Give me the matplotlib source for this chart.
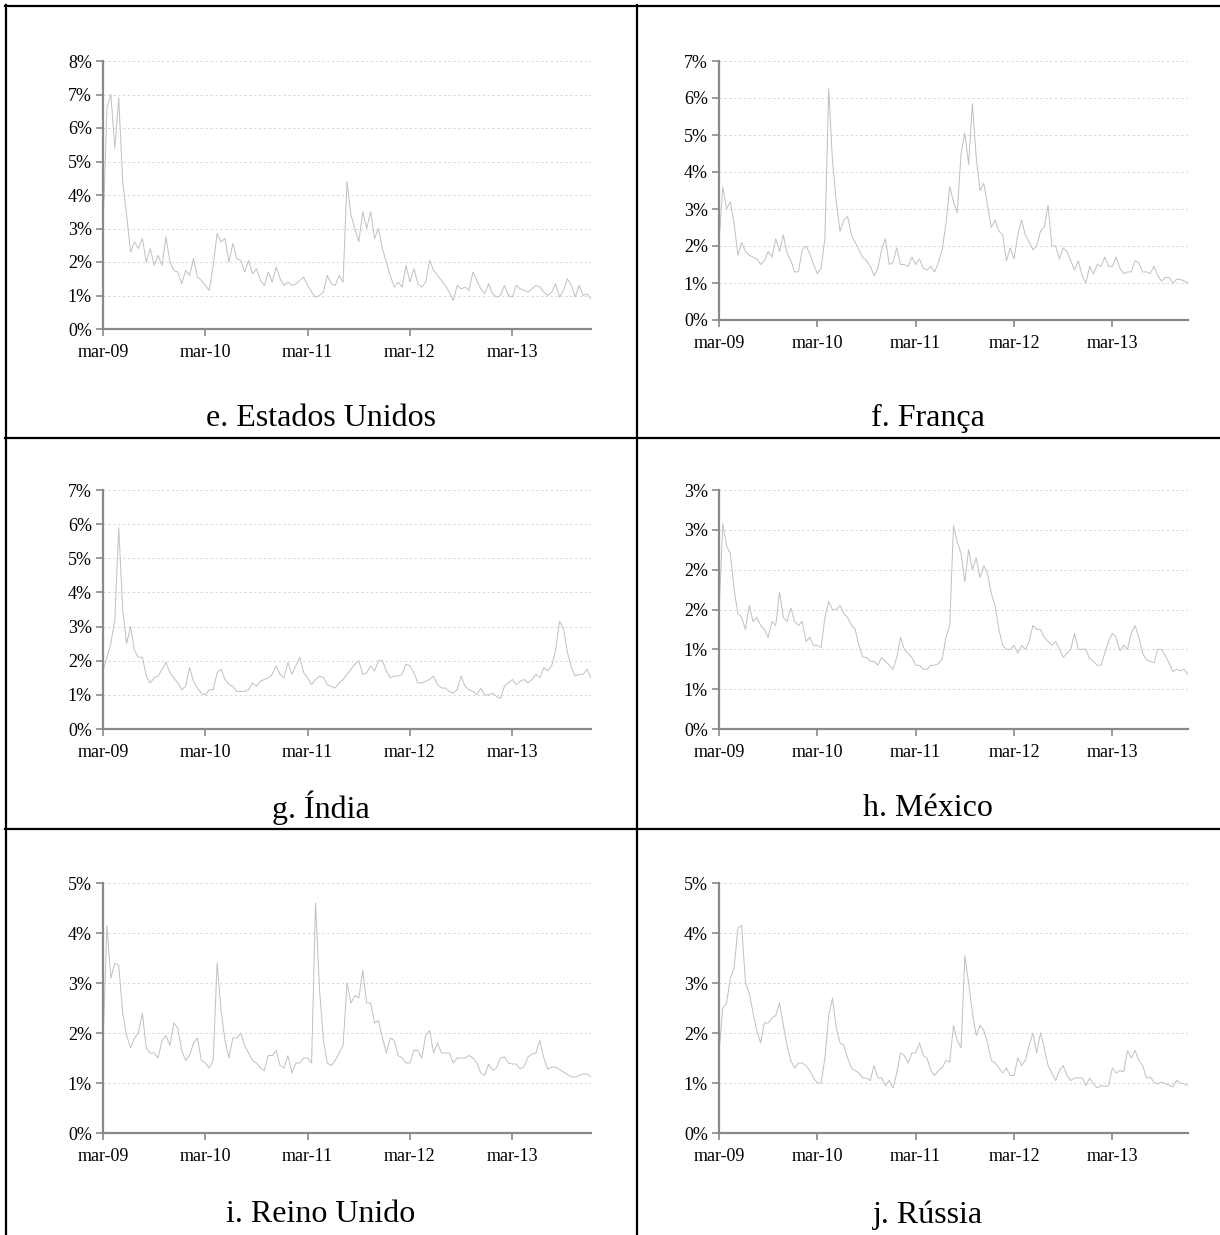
import numpy as np
import matplotlib.pyplot as plt
from matplotlib.lines import Line2D
from matplotlib.ticker import FuncFormatter, MultipleLocator

plt.rcParams['font.family'] = ['Liberation Serif', 'DejaVu Serif']

# Volatility readings (%), one value every two weeks from march 2009
estados_unidos = [
    2.9, 6.6, 7.0, 5.4, 6.9, 4.4, 3.4, 2.3, 2.6, 2.4,
    2.7, 2.0, 2.4, 1.9, 2.2, 1.9, 2.75, 2.0, 1.75, 1.7,
    1.35, 1.75, 1.6, 2.1, 1.55, 1.45, 1.3, 1.15, 1.9, 2.85,
    2.6, 2.7, 2.0, 2.55, 2.1, 2.05, 1.7, 2.05, 1.65, 1.8,
    1.45, 1.3, 1.7, 1.4, 1.85, 1.5, 1.3, 1.4, 1.3, 1.35,
    1.45, 1.55, 1.3, 1.1, 0.95, 1.0, 1.1, 1.6, 1.35, 1.3,
    1.6, 1.4, 4.4, 3.4, 3.0, 2.6, 3.5, 3.0, 3.5, 2.7,
    3.0, 2.4, 2.0, 1.6, 1.25, 1.4, 1.25, 1.9, 1.4, 1.8,
    1.35, 1.25, 1.4, 2.05, 1.75, 1.6, 1.45, 1.3, 1.1, 0.85,
    1.3, 1.2, 1.25, 1.15, 1.7, 1.45, 1.2, 1.05, 1.35, 1.05,
    0.95, 1.0, 1.3, 1.0, 0.95, 1.3, 1.2, 1.15, 1.1, 1.2,
    1.3, 1.25, 1.1, 1.0, 1.1, 1.35, 0.95, 1.15, 1.5, 1.3,
    0.95, 1.3, 1.0, 1.05, 0.9,
]
franca = [
    2.1, 3.6, 3.0, 3.2, 2.6, 1.75, 2.1, 1.85, 1.75, 1.7,
    1.65, 1.5, 1.6, 1.85, 1.7, 2.2, 1.85, 2.3, 1.8, 1.6,
    1.3, 1.3, 1.9, 2.0, 1.8, 1.5, 1.25, 1.4, 2.2, 6.25,
    4.3, 3.2, 2.4, 2.7, 2.8, 2.3, 2.1, 1.9, 1.7, 1.6,
    1.45, 1.2, 1.4, 1.9, 2.2, 1.5, 1.55, 1.95, 1.5, 1.5,
    1.45, 1.7, 1.5, 1.65, 1.4, 1.35, 1.45, 1.3, 1.55, 1.9,
    2.6, 3.6, 3.2, 2.9, 4.5, 5.05, 4.2, 5.85, 4.4, 3.5,
    3.7, 3.1, 2.5, 2.7, 2.4, 2.3, 1.6, 1.95, 1.65, 2.3,
    2.7, 2.3, 2.1, 1.9, 2.0, 2.4, 2.5, 3.1, 2.0, 2.0,
    1.65, 1.95, 1.85, 1.6, 1.35, 1.6, 1.2, 1.0, 1.45, 1.25,
    1.5, 1.45, 1.7, 1.45, 1.45, 1.7, 1.4, 1.25, 1.3, 1.3,
    1.6, 1.55, 1.3, 1.3, 1.25, 1.45, 1.2, 1.05, 1.15, 1.15,
    1.0, 1.1, 1.1, 1.05, 1.0,
]
india = [
    1.7, 2.1, 2.5, 3.2, 5.9, 3.5, 2.5, 3.0, 2.3, 2.1,
    2.1, 1.55, 1.35, 1.5, 1.55, 1.75, 1.95, 1.65, 1.5, 1.35,
    1.15, 1.25, 1.8, 1.4, 1.2, 1.05, 1.0, 1.15, 1.15, 1.65,
    1.75, 1.45, 1.3, 1.25, 1.1, 1.1, 1.1, 1.15, 1.35, 1.25,
    1.4, 1.45, 1.5, 1.6, 1.85, 1.6, 1.5, 1.95, 1.6, 1.85,
    2.1, 1.65, 1.5, 1.3, 1.45, 1.55, 1.5, 1.3, 1.25, 1.2,
    1.35, 1.45, 1.6, 1.75, 1.9, 2.0, 1.6, 1.65, 1.85, 1.7,
    2.0, 2.0, 1.7, 1.5, 1.55, 1.55, 1.6, 1.9, 1.85, 1.65,
    1.35, 1.35, 1.4, 1.45, 1.55, 1.3, 1.2, 1.2, 1.1, 1.05,
    1.15, 1.55, 1.25, 1.15, 1.1, 1.0, 1.2, 1.0, 1.0, 1.05,
    0.95, 0.9, 1.25, 1.35, 1.45, 1.3, 1.4, 1.45, 1.35, 1.45,
    1.6, 1.5, 1.8, 1.7, 1.85, 2.3, 3.15, 2.95, 2.25, 1.8,
    1.55, 1.6, 1.6, 1.75, 1.5,
]
mexico = [
    1.45, 2.58, 2.3, 2.2, 1.75, 1.45, 1.4, 1.25, 1.55, 1.35,
    1.4, 1.3, 1.25, 1.15, 1.35, 1.3, 1.72, 1.4, 1.35, 1.52,
    1.35, 1.3, 1.35, 1.1, 1.15, 1.05, 1.05, 1.02, 1.4, 1.6,
    1.5, 1.5, 1.55, 1.45, 1.4, 1.3, 1.25, 1.05, 0.9, 0.9,
    0.85, 0.85, 0.8, 0.9, 0.85, 0.8, 0.75, 0.9, 1.15, 1.0,
    0.95, 0.9, 0.8, 0.8, 0.75, 0.75, 0.8, 0.8, 0.82, 0.88,
    1.15, 1.3, 2.55, 2.35, 2.2, 1.85, 2.25, 2.0, 2.15, 1.9,
    2.05, 1.95, 1.7, 1.55, 1.25, 1.05, 1.0, 1.0, 1.05, 0.95,
    1.05, 1.0, 1.1, 1.3, 1.25, 1.25, 1.15, 1.1, 1.05, 1.1,
    1.0, 0.9, 0.95, 1.0, 1.2, 1.0, 1.0, 1.0, 0.88, 0.85,
    0.8, 0.8, 0.95, 1.1, 1.2, 1.15, 0.98, 1.05, 1.0, 1.2,
    1.3, 1.15, 0.95, 0.87, 0.85, 0.83, 1.0, 1.0, 0.92, 0.83,
    0.72, 0.75, 0.73, 0.75, 0.68,
]
reino_unido = [
    1.75, 4.15, 3.1, 3.4, 3.35, 2.4, 1.95, 1.7, 1.9, 2.0,
    2.4, 1.7, 1.6, 1.6, 1.5, 1.85, 1.95, 1.75, 2.2, 2.1,
    1.65, 1.45, 1.55, 1.8, 1.9, 1.45, 1.4, 1.3, 1.45, 3.4,
    2.45, 1.85, 1.5, 1.9, 1.9, 2.0, 1.75, 1.6, 1.45, 1.4,
    1.3, 1.25, 1.55, 1.55, 1.65, 1.35, 1.3, 1.55, 1.2, 1.4,
    1.4, 1.5, 1.5, 1.4, 4.6, 2.9, 1.85, 1.4, 1.35, 1.45,
    1.6, 1.75, 3.0, 2.6, 2.75, 2.7, 3.25, 2.6, 2.6, 2.2,
    2.25, 1.9, 1.6, 1.9, 1.85, 1.55, 1.5, 1.4, 1.4, 1.65,
    1.65, 1.5, 1.95, 2.05, 1.6, 1.8, 1.6, 1.6, 1.6, 1.4,
    1.5, 1.5, 1.5, 1.55, 1.5, 1.4, 1.2, 1.15, 1.38, 1.25,
    1.3, 1.5, 1.52, 1.4, 1.38, 1.38, 1.28, 1.33, 1.52, 1.58,
    1.6, 1.85, 1.5, 1.28, 1.32, 1.32, 1.27, 1.22, 1.17, 1.12,
    1.12, 1.15, 1.18, 1.18, 1.12,
]
russia = [
    1.6, 2.5, 2.6, 3.1, 3.3, 4.1, 4.15, 3.0, 2.8, 2.4,
    2.05, 1.8, 2.2, 2.2, 2.3, 2.35, 2.6, 2.15, 1.75, 1.45,
    1.3, 1.4, 1.4, 1.35, 1.25, 1.1, 1.0, 1.0, 1.5, 2.35,
    2.7, 2.1, 1.8, 1.75, 1.5, 1.3, 1.25, 1.2, 1.1, 1.1,
    1.05, 1.35, 1.1, 1.1, 0.95, 1.05, 0.9, 1.2, 1.6, 1.55,
    1.4, 1.6, 1.6, 1.8, 1.55, 1.5, 1.25, 1.15, 1.25, 1.3,
    1.45, 1.42, 2.15, 1.85, 1.7, 3.55, 3.0, 2.4, 1.95, 2.15,
    2.05, 1.8, 1.45, 1.4, 1.3, 1.2, 1.3, 1.15, 1.15, 1.5,
    1.35, 1.45, 1.75, 2.0, 1.6, 2.0, 1.7, 1.35, 1.2, 1.05,
    1.25, 1.35, 1.15, 1.05, 1.1, 1.1, 1.1, 0.95, 1.1, 0.98,
    0.9, 0.95, 0.93, 0.95, 1.3, 1.2, 1.25, 1.22, 1.65, 1.5,
    1.65, 1.45, 1.35, 1.1, 1.12, 1.02, 0.98, 1.02, 0.98, 0.96,
    0.92, 1.05, 1.0, 0.98, 0.95,
]

series = [estados_unidos, franca, india, mexico, reino_unido, russia]
titles = ['e. Estados Unidos', 'f. França', 'g. Índia', 'h. México',
          'i. Reino Unido', 'j. Rússia']
y_max = [8, 7, 7, 3, 5, 5]
y_step = [1, 1, 1, 0.5, 1, 1]
year_labels = ['mar-09', 'mar-10', 'mar-11', 'mar-12', 'mar-13']
points_per_year = 26

W, H = 1220, 1235
fig = plt.figure(figsize=(W / 100, H / 100), dpi=100)
fig.patch.set_facecolor('white')

# axes boxes in pixels: left, top, right, bottom
boxes = [
    (103, 61, 591, 329), (719, 61, 1188, 320),
    (103, 490, 591, 729), (719, 490, 1188, 729),
    (103, 883, 591, 1133), (719, 883, 1188, 1133),
]
caption_x = [321, 928]
caption_y = [418, 808, 1215]

axis_grey = '#898989'


def pct_label(v, pos):
    # excel style rounding: 0.5 -> 1, 1.5 -> 2
    return '%d%%' % int(np.floor(v + 0.5 + 1e-9))


for i, (vals, title) in enumerate(zip(series, titles)):
    x0, top, x1, bottom = boxes[i]
    ax = fig.add_axes([x0 / W, 1 - bottom / H, (x1 - x0) / W, (bottom - top) / H])
    x = np.arange(len(vals)) / points_per_year
    ax.plot(x, vals, color='#c0c0c0', lw=0.7)

    ax.set_xlim(0, 124 / points_per_year)
    ax.set_ylim(0, y_max[i])
    ax.yaxis.set_major_locator(MultipleLocator(y_step[i]))
    ax.yaxis.set_major_formatter(FuncFormatter(pct_label))
    ax.set_xticks(range(len(year_labels)))
    ax.set_xticklabels(year_labels)

    ax.grid(axis='y', color='#d9d9d9', lw=0.7, linestyle=(0, (2.5, 2.5)))
    ax.set_axisbelow(True)
    for side in ['top', 'right']:
        ax.spines[side].set_visible(False)
    for side in ['left', 'bottom']:
        ax.spines[side].set_color(axis_grey)
        ax.spines[side].set_linewidth(1.6)
    ax.tick_params(axis='both', colors=axis_grey, length=5, width=1.2,
                   labelcolor='black', labelsize=13, direction='out')
    ax.tick_params(axis='y', pad=3)
    ax.tick_params(axis='x', pad=6)

    fig.text(caption_x[i % 2] / W, 1 - caption_y[i // 2] / H, title,
             ha='center', va='center', fontsize=23)

# table borders around the panels
def hline(y, xa, xb):
    fig.add_artist(Line2D([xa / W, xb / W], [1 - y / H, 1 - y / H],
                          transform=fig.transFigure, color='black', lw=1.6))


def vline(x, ya, yb):
    fig.add_artist(Line2D([x / W, x / W], [1 - ya / H, 1 - yb / H],
                          transform=fig.transFigure, color='black', lw=1.6))


hline(6, 5, W)
hline(438, 5, W)
hline(829, 5, W)
vline(6, 5, H)
vline(637, 5, H)

fig.savefig('out.png', dpi=100, facecolor='white')
